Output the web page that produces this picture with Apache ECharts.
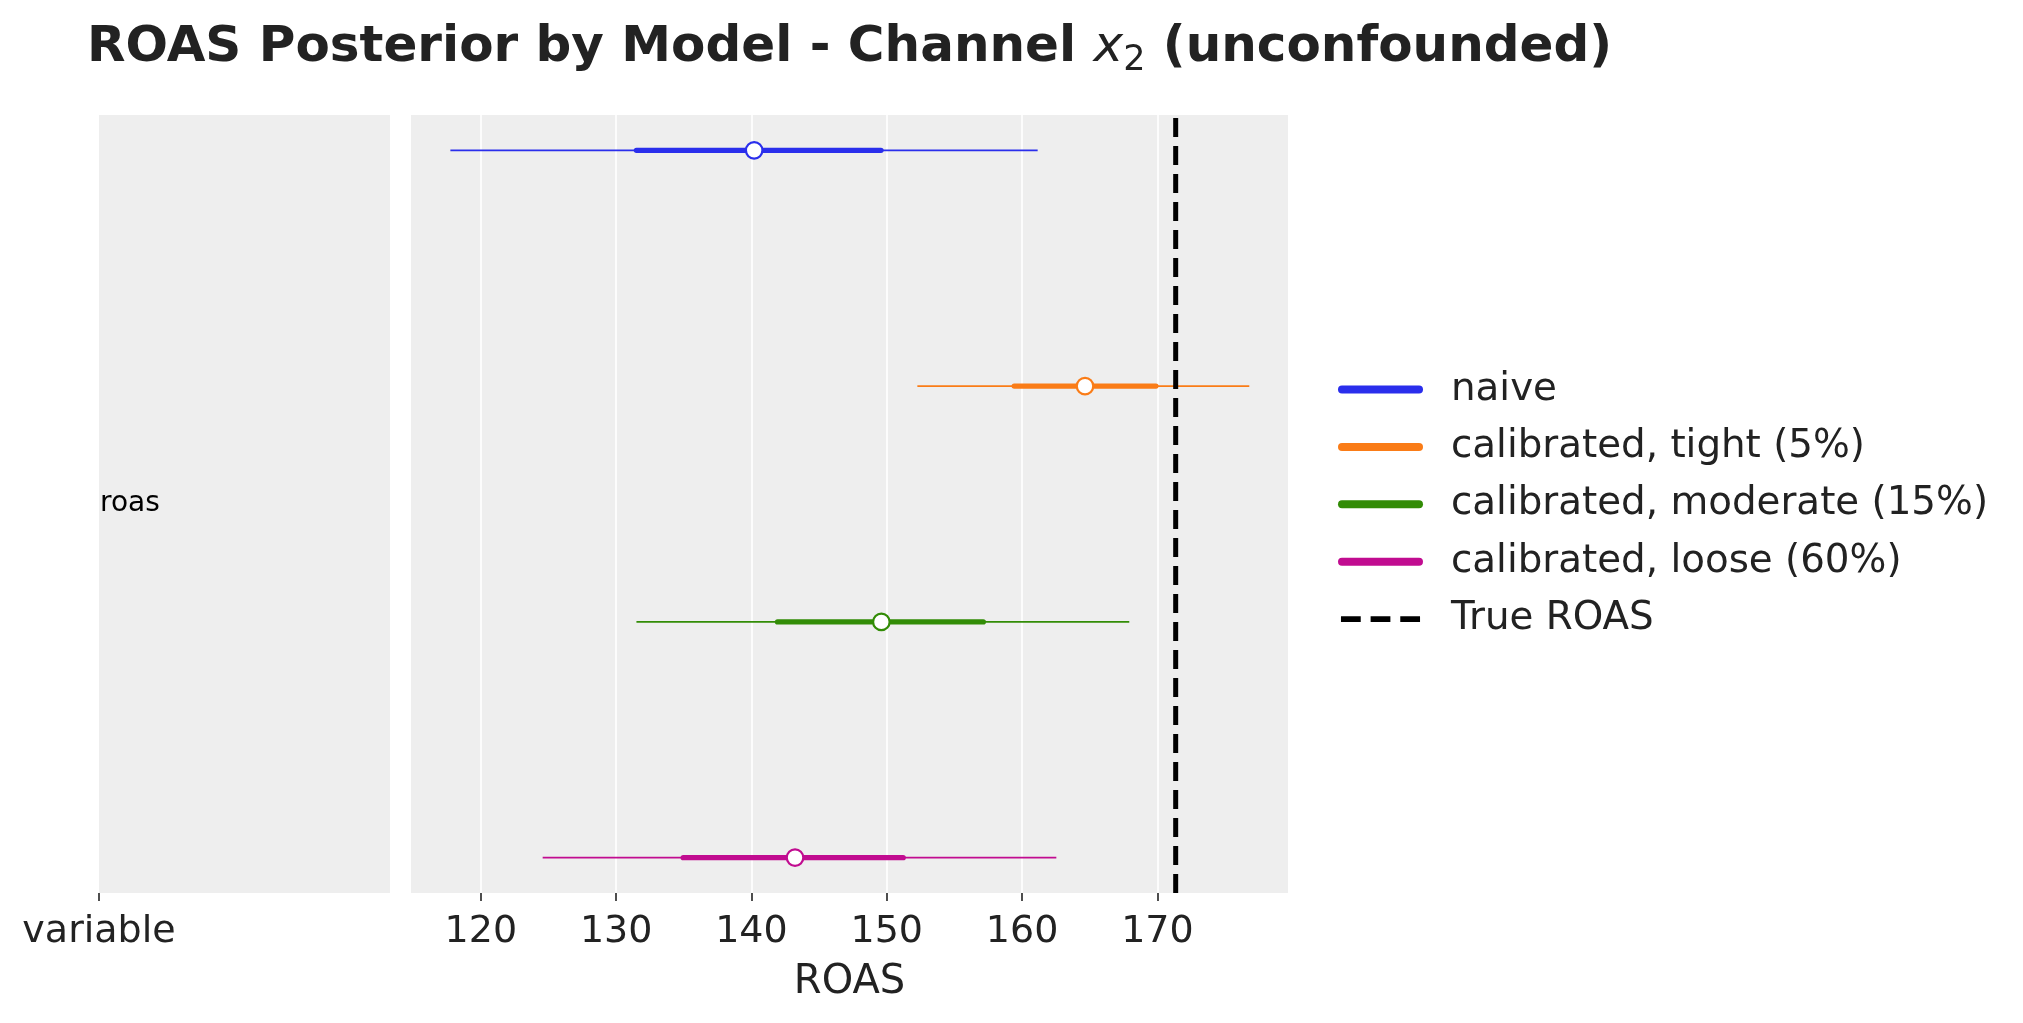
<!DOCTYPE html>
<html>
<head>
<meta charset="utf-8">
<script src="https://cdn.jsdelivr.net/npm/echarts@6/dist/echarts.min.js"></script>
<style>
html, body { margin: 0; padding: 0; background: #ffffff; }
#chart { width: 2023px; height: 1023px; }
</style>
</head>
<body>
<div id="chart"></div>
<script>
// ---- data ----
const models = ['naive', 'calibrated, tight (5%)', 'calibrated, moderate (15%)', 'calibrated, loose (60%)'];
const colors = ['#2a2eec', '#fa7c17', '#328c06', '#c10c90'];
const hdiLow  = [117.75, 152.26, 131.5, 124.57];
const iqrLow  = [131.5, 159.42, 141.93, 134.96];
const medians = [140.2, 164.65, 149.6, 143.22];
const iqrHigh = [149.57, 169.89, 157.13, 151.21];
const hdiHigh = [161.15, 176.79, 167.92, 162.53];
const rowPos  = [3, 2, 1, 0];
const trueRoas = 171.35;
const trueLabel = 'True ROAS';
const xTicks = [120, 130, 140, 150, 160, 170];
const leftTickLabels = ['variable'];
const varLabels = ['roas'];

const FONT = 'DejaVu Sans';
const TXT = '#222222';

const series = [];
models.forEach((m, i) => {
  series.push({
    name: m, type: 'line', xAxisIndex: 1, yAxisIndex: 1,
    data: [[hdiLow[i], rowPos[i]], [hdiHigh[i], rowPos[i]]],
    symbol: 'none', lineStyle: { color: colors[i], width: 1.8 }, itemStyle: { color: colors[i] },
    z: 3, silent: true
  });
  series.push({
    name: m, type: 'line', xAxisIndex: 1, yAxisIndex: 1,
    data: [[iqrLow[i], rowPos[i]], [iqrHigh[i], rowPos[i]]],
    symbol: 'none', lineStyle: { color: colors[i], width: 5.4, cap: 'round' }, itemStyle: { color: colors[i] },
    z: 4, silent: true
  });
  series.push({
    name: m, type: 'scatter', xAxisIndex: 1, yAxisIndex: 1,
    data: [[medians[i], rowPos[i]]],
    symbol: 'circle', symbolSize: 16.5,
    itemStyle: { color: '#ffffff', borderColor: colors[i], borderWidth: 2.2, opacity: 1 },
    z: 5, silent: true
  });
});
series.push({
  name: trueLabel, type: 'line', xAxisIndex: 1, yAxisIndex: 1,
  data: [[trueRoas, -0.15], [trueRoas, 3.15]],
  symbol: 'none', lineStyle: { color: '#000000', width: 5, type: [19, 9] }, itemStyle: { color: '#000000' },
  z: 6, silent: true
});

const capsule = 'path://M4,0 H81 A4,4 0 0 1 81,8 H4 A4,4 0 0 1 4,0 Z';
const dashes = 'path://M0,0 M3,1h20v6h-20z M33,1h20v6h-20z M63,1h20v6h-20z M86,8';
const legendData = models.map((m, i) => ({
  name: m, icon: capsule, itemStyle: { color: colors[i], borderWidth: 0 }
}));
legendData.push({ name: trueLabel, icon: dashes, itemStyle: { color: '#000000', borderWidth: 0 } });

const option = {
  animation: false,
  backgroundColor: '#ffffff',
  title: {
    text: '{b|ROAS Posterior by Model - Channel }{i|x}{s|2}{b| (unconfounded)}',
    left: 82, top: 13,
    textStyle: {
      rich: {
        b: { fontFamily: FONT, fontWeight: 'bold', fontSize: 50, color: TXT, lineHeight: 60 },
        i: { fontFamily: FONT, fontStyle: 'italic', fontWeight: 'normal', fontSize: 50, color: TXT, lineHeight: 60 },
        s: { fontFamily: FONT, fontWeight: 'normal', fontSize: 35, color: TXT, lineHeight: 36, verticalAlign: 'bottom' }
      }
    }
  },
  legend: {
    orient: 'vertical', left: 1333, top: 365,
    itemWidth: 85, itemHeight: 8, itemGap: 18.4,
    data: legendData,
    formatter: name => '{t|' + name + '}',
    textStyle: {
      rich: { t: { fontFamily: FONT, fontSize: 38.8, color: TXT, lineHeight: 40, padding: [0, 0, 0, 23] } }
    },
    selectedMode: false
  },
  grid: [
    { left: 99, top: 115, width: 291, height: 778, show: true, backgroundColor: '#eeeeee', borderWidth: 0, containLabel: false },
    { left: 411, top: 115, width: 877, height: 778, show: true, backgroundColor: '#eeeeee', borderWidth: 0, containLabel: false }
  ],
  xAxis: [
    {
      gridIndex: 0, type: 'value', min: 0, max: 1, position: 'bottom',
      axisLine: { show: false, onZero: false },
      axisTick: { show: true, length: 8, customValues: [0], lineStyle: { color: TXT, width: 1.6 } },
      axisLabel: { show: true, customValues: [0], formatter: v => leftTickLabels[v], fontFamily: FONT, fontSize: 38, color: TXT, margin: 20 },
      splitLine: { show: false }
    },
    {
      gridIndex: 1, type: 'value', min: 114.84, max: 179.65, minInterval: 10, maxInterval: 10, position: 'bottom',
      axisLine: { show: false, onZero: false },
      axisTick: { show: true, length: 8, customValues: xTicks, lineStyle: { color: TXT, width: 1.6 } },
      axisLabel: { show: true, customValues: xTicks, fontFamily: FONT, fontSize: 38, color: TXT, margin: 20 },
      splitLine: { show: true, showMinLine: true, showMaxLine: true, lineStyle: { color: '#ffffff', width: 1.6 } },
      name: 'ROAS', nameLocation: 'middle', nameGap: 70,
      nameTextStyle: { fontFamily: FONT, fontSize: 40, color: TXT }
    }
  ],
  yAxis: [
    {
      gridIndex: 0, type: 'value', min: 0, max: 1,
      axisLine: { show: false, onZero: false }, axisTick: { show: false }, splitLine: { show: false },
      axisLabel: { show: true, inside: true, margin: 1, customValues: [0.5], formatter: () => varLabels[0],
                   fontFamily: FONT, fontSize: 28, color: '#000000' }
    },
    {
      gridIndex: 1, type: 'value', min: -0.15, max: 3.15,
      axisLine: { show: false, onZero: false }, axisTick: { show: false }, splitLine: { show: false }, axisLabel: { show: false }
    }
  ],
  series: series
};

const chart = echarts.init(document.getElementById('chart'), null, { renderer: 'canvas' });
chart.setOption(option);
</script>
</body>
</html>
